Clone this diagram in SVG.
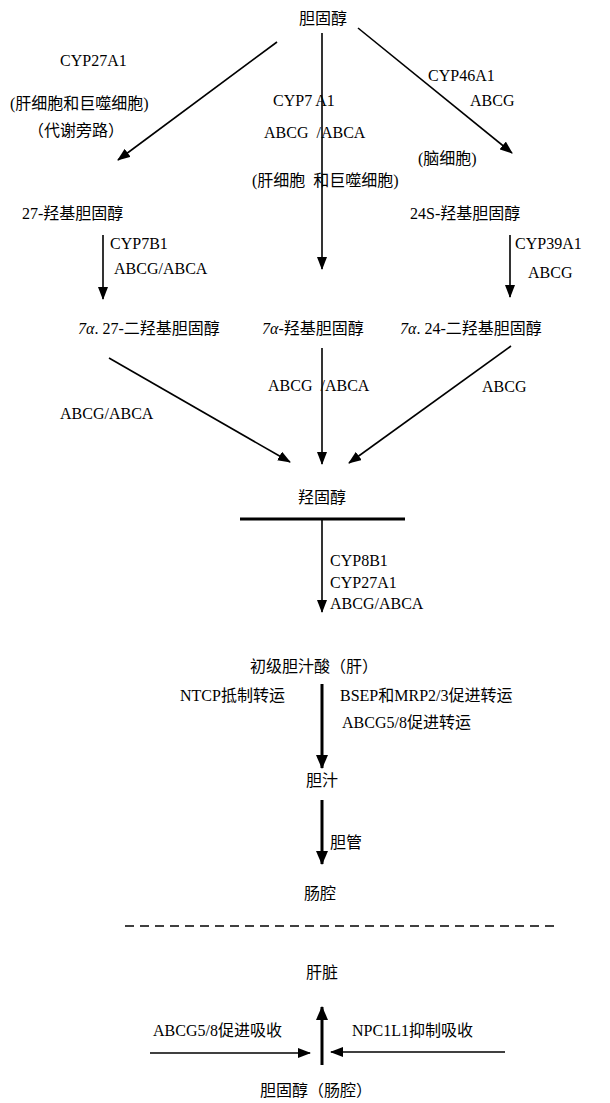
<svg xmlns="http://www.w3.org/2000/svg" width="610" height="1103" viewBox="0 0 610 1103">
<defs>
<style>
text{font-family:"Liberation Serif","Noto Sans CJK SC",serif;font-size:16px;fill:#000;white-space:pre}
.c{text-anchor:middle}
.thin{stroke:#000;stroke-width:1.6;fill:none}
.thick{stroke:#000;stroke-width:3;fill:none}
</style>
<marker id="ah" markerUnits="userSpaceOnUse" markerWidth="13" markerHeight="10" refX="12" refY="5" orient="auto">
<path d="M0,0 L13,5 L0,10 z" fill="#000"/>
</marker>
<marker id="ahb" markerUnits="userSpaceOnUse" markerWidth="14" markerHeight="12" refX="13" refY="6" orient="auto">
<path d="M0,0 L14,6 L0,12 z" fill="#000"/>
</marker>
</defs>
<rect width="610" height="1103" fill="#fff"/>

<g id="connectors">
<line class="thin" x1="277" y1="42" x2="118" y2="160" marker-end="url(#ah)"/>
<line class="thin" x1="322" y1="33" x2="322" y2="269" marker-end="url(#ah)"/>
<line class="thin" x1="358" y1="28" x2="512" y2="153" marker-end="url(#ah)"/>
<line class="thin" x1="103" y1="235" x2="103" y2="299" marker-end="url(#ah)"/>
<line class="thin" x1="510" y1="235" x2="510" y2="297" marker-end="url(#ah)"/>
<line class="thin" x1="109" y1="358" x2="290" y2="462" marker-end="url(#ah)"/>
<line class="thin" x1="322" y1="348" x2="322" y2="464" marker-end="url(#ah)"/>
<line class="thin" x1="511" y1="346" x2="349" y2="463" marker-end="url(#ah)"/>
<line class="thick" x1="240" y1="519" x2="405" y2="519"/>
<line class="thin" x1="322" y1="519" x2="322" y2="612" marker-end="url(#ah)"/>
<line class="thick" x1="322" y1="684" x2="322" y2="768" marker-end="url(#ahb)"/>
<line class="thick" x1="322" y1="800" x2="322" y2="864" marker-end="url(#ahb)"/>
<line x1="125" y1="926" x2="560" y2="926" stroke="#000" stroke-width="1.5" stroke-dasharray="9,6"/>
<line class="thick" x1="322" y1="1065" x2="322" y2="1007" marker-end="url(#ahb)"/>
<line class="thin" x1="150" y1="1053" x2="310" y2="1053" marker-end="url(#ah)"/>
<line class="thin" x1="505" y1="1052" x2="331" y2="1052" marker-end="url(#ah)"/>
</g>

<g id="n-cholesterol"><text class="c" x="323" y="24">胆固醇</text></g>
<g id="l-cyp27a1">
<text x="60" y="66">CYP27A1</text>
<text x="10" y="109">(肝细胞和巨噬细胞)</text>
<text x="28" y="136">（代谢旁路）</text>
</g>
<g id="l-cyp7a1">
<text x="273" y="106">CYP7 A1</text>
<text x="264" y="138">ABCG  /ABCA</text>
<text x="252" y="186">(肝细胞  和巨噬细胞)</text>
</g>
<g id="l-cyp46a1">
<text x="428" y="81">CYP46A1</text>
<text x="470" y="106">ABCG</text>
<text x="418" y="164">(脑细胞)</text>
</g>
<g id="n-27oh"><text x="22" y="219">27-羟基胆固醇</text></g>
<g id="n-24soh"><text x="410" y="219">24S-羟基胆固醇</text></g>
<g id="l-cyp7b1">
<text x="110" y="249">CYP7B1</text>
<text x="114" y="274">ABCG/ABCA</text>
</g>
<g id="l-cyp39a1">
<text x="515" y="249">CYP39A1</text>
<text x="528" y="278">ABCG</text>
</g>
<g id="n-7a27"><text x="78" y="334"><tspan font-style="italic">7α</tspan>. 27-二羟基胆固醇</text></g>
<g id="n-7a"><text x="262" y="334"><tspan font-style="italic">7α</tspan>-羟基胆固醇</text></g>
<g id="n-7a24"><text x="400" y="334"><tspan font-style="italic">7α</tspan>. 24-二羟基胆固醇</text></g>
<g id="l-lower">
<text x="60" y="419">ABCG/ABCA</text>
<text x="268" y="391">ABCG  /ABCA</text>
<text x="482" y="392">ABCG</text>
</g>
<g id="n-oxysterol"><text class="c" x="322" y="503">羟固醇</text></g>
<g id="l-cyp8b1">
<text x="330" y="566">CYP8B1</text>
<text x="330" y="588">CYP27A1</text>
<text x="330" y="609">ABCG/ABCA</text>
</g>
<g id="n-primary"><text x="250" y="672">初级胆汁酸（肝）</text></g>
<g id="l-transport">
<text x="180" y="701">NTCP抵制转运</text>
<text x="340" y="701">BSEP和MRP2/3促进转运</text>
<text x="342" y="728">ABCG5/8促进转运</text>
</g>
<g id="n-bile"><text class="c" x="322" y="786">胆汁</text></g>
<g id="l-duct"><text x="330" y="848">胆管</text></g>
<g id="n-gut"><text class="c" x="320" y="899">肠腔</text></g>
<g id="n-liver"><text class="c" x="322" y="978">肝脏</text></g>
<g id="l-abcg58"><text x="153" y="1036">ABCG5/8促进吸收</text></g>
<g id="l-npc1l1"><text x="352" y="1036">NPC1L1抑制吸收</text></g>
<g id="n-chol-gut"><text x="260" y="1096">胆固醇（肠腔）</text></g>
</svg>
